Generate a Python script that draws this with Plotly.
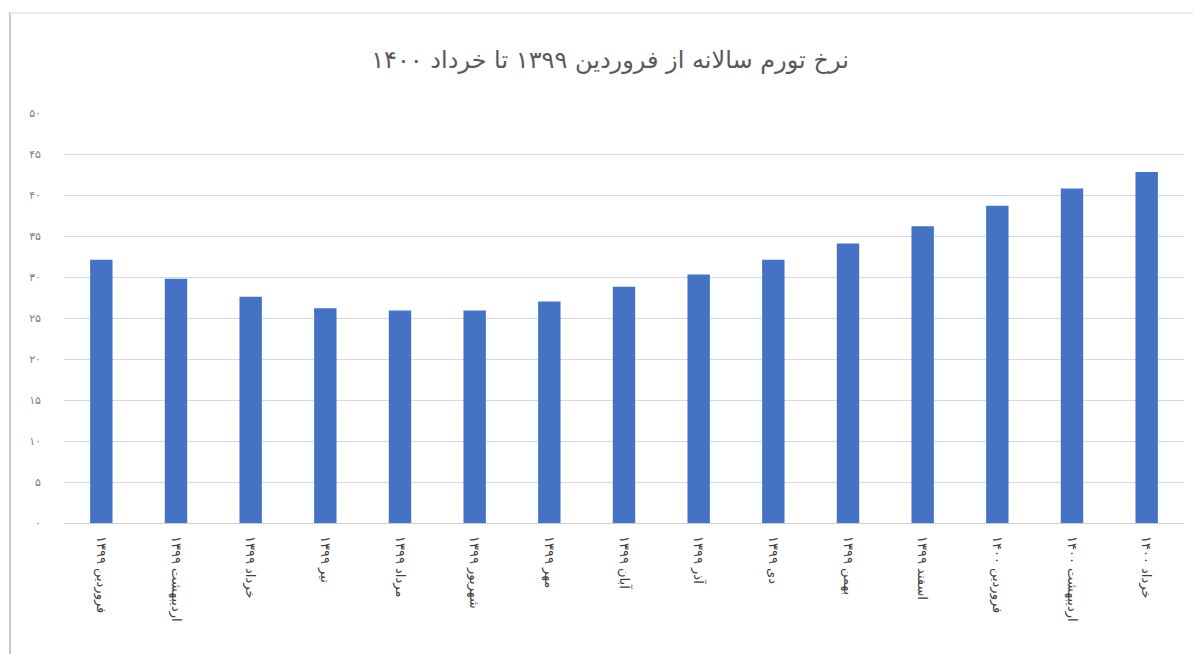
import plotly.graph_objects as go

title_text = "نرخ تورم سالانه از فروردین ۱۳۹۹ تا خرداد ۱۴۰۰"
months = ["فروردین ۱۳۹۹", "اردیبهشت ۱۳۹۹", "خرداد ۱۳۹۹", "تیر ۱۳۹۹", "مرداد ۱۳۹۹",
          "شهریور ۱۳۹۹", "مهر ۱۳۹۹", "آبان ۱۳۹۹", "آذر ۱۳۹۹", "دی ۱۳۹۹",
          "بهمن ۱۳۹۹", "اسفند ۱۳۹۹", "فروردین ۱۴۰۰", "اردیبهشت ۱۴۰۰", "خرداد ۱۴۰۰"]
inflation = [32.1, 29.8, 27.6, 26.2, 25.9, 25.9, 27.0, 28.8, 30.3, 32.1,
             34.1, 36.2, 38.7, 40.8, 42.8]
y_tick_vals = [0, 5, 10, 15, 20, 25, 30, 35, 40, 45, 50]
y_tick_text = ["۰", "۵", "۱۰", "۱۵", "۲۰", "۲۵", "۳۰", "۳۵", "۴۰", "۴۵", "۵۰"]

fig = go.Figure()
fig.add_trace(go.Bar(
    x=months, y=inflation,
    marker=dict(color="#4472c4", line=dict(width=0)),
    hoverinfo="x+y",
))

# page body has an 8px default margin; work in screen coords minus that offset
OFF = 8
W, H = 1201 - OFF, 654 - OFF
L, R, T, B = 64 - OFF, 1184 - OFF, 113 - OFF, 523 - OFF

fig.update_layout(
    width=W, height=H,
    margin=dict(l=L, r=W - R, t=T, b=H - B, autoexpand=False),
    paper_bgcolor="white", plot_bgcolor="white",
    bargap=0.70,
    showlegend=False,
    font=dict(family="DejaVu Sans, sans-serif", color="#404040"),
    title=dict(text=title_text, x=(610 - OFF) / W, xanchor="center",
               y=1 - (60 - OFF) / H, yanchor="middle",
               font=dict(size=24, color="#595959", family="DejaVu Sans, sans-serif")),
    xaxis=dict(
        tickangle=90, tickfont=dict(size=13, color="#404040"),
        showgrid=False, showline=False, ticks="", ticklabelstandoff=12,
    ),
    yaxis=dict(
        range=[0, 50], tickvals=y_tick_vals, ticktext=y_tick_text,
        tickfont=dict(size=11, color="#7f7f7f"),
        showgrid=True, gridcolor="#d9d9d9", gridwidth=1,
        zeroline=True, zerolinecolor="#d0d0d0", zerolinewidth=1,
        showline=False, ticks="", ticklabelstandoff=22,
    ),
)

pw, ph = R - L, B - T
bx = 10 - OFF
fig.add_shape(type="line", xref="paper", yref="paper",
              x0=(bx - L) / pw, x1=(bx - L) / pw, y0=(B - 660) / ph, y1=(B - (12 - OFF)) / ph,
              line=dict(color="#c8c8c8", width=2))
fig.add_shape(type="line", xref="paper", yref="paper",
              x0=(bx - L) / pw, x1=(1200 - L) / pw, y0=(B - (13 - OFF)) / ph, y1=(B - (13 - OFF)) / ph,
              line=dict(color="#ececec", width=2))

fig.write_html("out.html")
